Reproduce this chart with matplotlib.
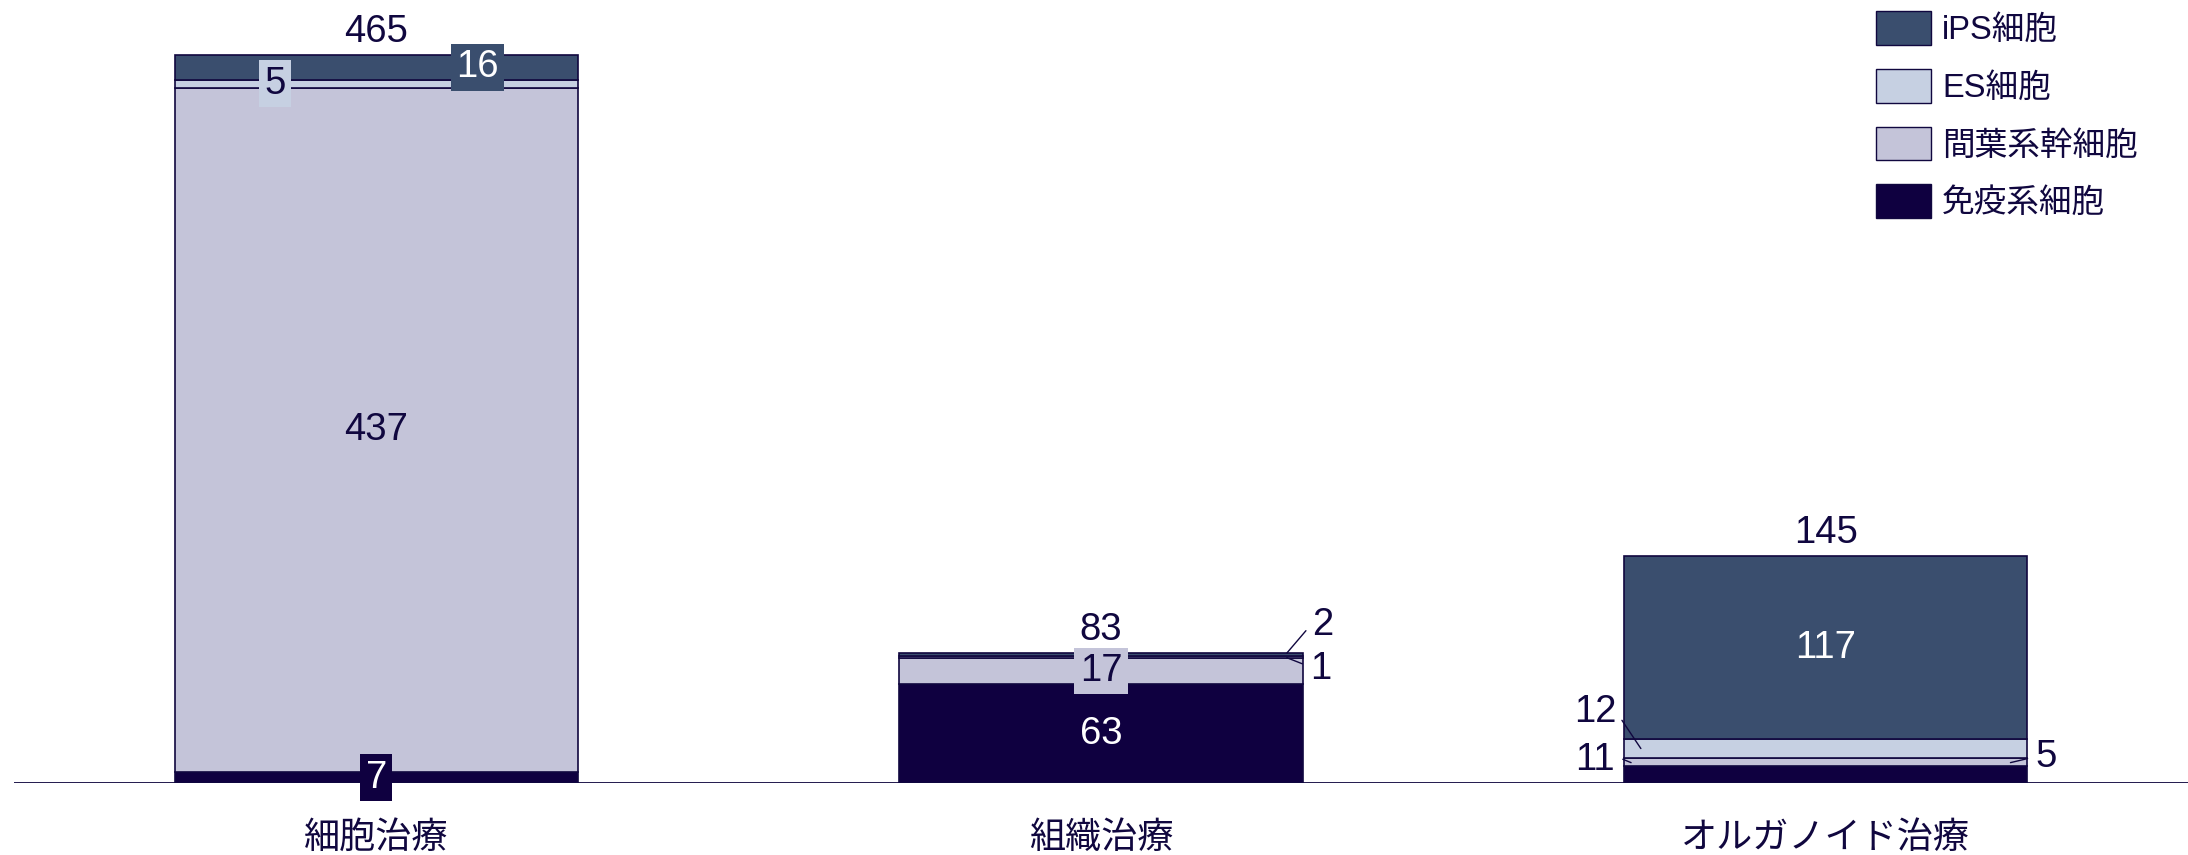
import matplotlib
matplotlib.use("Agg")
import matplotlib.pyplot as plt
from matplotlib.patches import Patch
import numpy as np

plt.rcParams['font.family'] = ['Liberation Sans', 'Noto Sans CJK JP', 'DejaVu Sans']

# ---- data ----
categories = ['細胞治療', '組織治療', 'オルガノイド治療']
series_names = ['免疫系細胞', '間葉系幹細胞', 'ES細胞', 'iPS細胞']
immune = [7, 63, 11]
mesenchymal = [437, 17, 5]
es_cell = [5, 1, 12]
ips_cell = [16, 2, 117]
totals = [465, 83, 145]

# ---- style ----
INK = '#10073F'
colors = ['#0F0040', '#C4C4D9', '#C6D0E2', '#3A4E6E']
text_colors = ['white', INK, INK, 'white']

fig = plt.figure(figsize=(21.88, 8.55), dpi=100)
ax = fig.add_axes([14 / 2188, 1 - 783 / 855, 1 - 14 / 2188, 783 / 855])

x = np.arange(len(categories))
width = 0.557
stack = [immune, mesenchymal, es_cell, ips_cell]
bottoms = np.zeros(len(categories))
bars = []
for vals, col in zip(stack, colors):
    b = ax.bar(x, vals, width, bottom=bottoms, color=col, edgecolor=INK, linewidth=1.2, zorder=2)
    bars.append((b, bottoms.copy(), np.array(vals)))
    bottoms += np.array(vals)

ax.set_xlim(-0.5, 2.5)
ax.set_ylim(0, 500)
for s in ax.spines.values():
    s.set_visible(False)
ax.axhline(0, color=INK, linewidth=1.3, zorder=3)
ax.set_yticks([])
ax.set_xticks(x)
ax.set_xticklabels(categories, fontsize=26, color=INK)
ax.tick_params(axis='x', length=0, pad=27)

FS = 27.5

# labels drawn inside the bar: (bar, series) -> horizontal pixel offset, boxed?
centered = {
    (0, 0): (0, True), (0, 1): (0, False), (0, 2): (-101, True), (0, 3): (101, True),
    (1, 0): (0, False), (1, 1): (0, True),
    (2, 3): (0, False),
}
# leader labels for thin segments:
# (bar, series) -> (x anchor relative to bar centre, y anchor, text dx px, text dy px, line start on text)
half = width / 2
leaders = {
    (1, 3): (half - 0.022, 83.0, 36, 28, (0.0, 0.55)),
    (1, 2): (half - 0.022, 80.0, 34, -11, (0.0, 0.55)),
    (2, 2): (-half + 0.0235, 22.0, -46, 37, (1.0, 0.5)),
    (2, 0): (-half + 0.010, 13.0, -36, 3, (1.0, 0.6)),
    (2, 1): (half - 0.0235, 13.0, 36, 6, (0.0, 0.5)),
}

for si, (b, bots, vals) in enumerate(bars):
    for ci in range(len(categories)):
        v = vals[ci]
        yc = bots[ci] + v / 2
        if (ci, si) in centered:
            dx, boxed = centered[(ci, si)]
            kw = {}
            if boxed:
                kw['bbox'] = dict(boxstyle='square,pad=0.14', facecolor=colors[si], edgecolor='none')
            ax.annotate(str(v), xy=(x[ci], yc), xytext=(dx, 0), textcoords='offset pixels',
                        ha='center', va='center', fontsize=FS, color=text_colors[si],
                        zorder=5, **kw)
        elif (ci, si) in leaders:
            ax_off, yv, dx, dy, rp = leaders[(ci, si)]
            ax.annotate(str(v), xy=(x[ci] + ax_off, yv), xytext=(dx, dy),
                        textcoords='offset pixels', ha='center', va='center',
                        fontsize=FS, color=INK, zorder=5,
                        arrowprops=dict(arrowstyle='-', color=INK, lw=1.0, relpos=rp,
                                        shrinkA=4, shrinkB=0))

# totals above bars
for ci, t in enumerate(totals):
    ax.annotate(str(t), xy=(x[ci], bottoms[ci]), xytext=(0, 23), textcoords='offset pixels',
                ha='center', va='center', fontsize=FS, color=INK)

# legend (top series first)
LFS = 23.5
handles = [Patch(facecolor=colors[i], edgecolor=INK, linewidth=1.0, label=series_names[i])
           for i in [3, 2, 1, 0]]
leg = fig.legend(handles=handles, loc='upper left', bbox_to_anchor=(1876 / 2188, 1 - 11 / 855),
                 frameon=False, fontsize=LFS, handlelength=1.68, handleheight=1.22,
                 handletextpad=0.35, labelspacing=0.70, borderpad=0, borderaxespad=0)
for txt in leg.get_texts():
    txt.set_color(INK)

fig.savefig('out.png', dpi=100)
